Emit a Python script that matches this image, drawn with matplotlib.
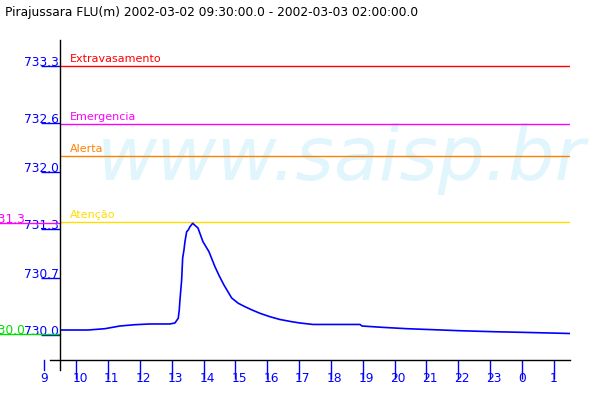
import math
import matplotlib
matplotlib.use("Agg")
import matplotlib.pyplot as plt
import matplotlib.transforms as mtransforms

# ---- data ----
title = "Pirajussara FLU(m) 2002-03-02 09:30:00.0 - 2002-03-03 02:00:00.0"
hours = [9.5, 10.37, 10.90, 11.37, 11.84, 12.32, 12.94, 13.10,
         13.204, 13.236, 13.258, 13.311, 13.343, 13.384, 13.415, 13.468,
         13.519, 13.572, 13.657, 13.823, 13.98, 14.169, 14.357, 14.493,
         14.64, 14.882, 15.089, 15.30, 15.52, 15.771, 16.085, 16.399,
         16.767, 17.028, 17.436, 18.913, 18.976, 19.604, 20.39, 21.206,
         21.991, 23.122, 23.939, 25.227, 25.51]
levels = [730.061, 730.061, 730.077, 730.110, 730.126, 730.135, 730.135, 730.147,
          730.205, 730.307, 730.429, 730.675, 730.945, 731.043, 731.145, 731.267,
          731.288, 731.328, 731.370, 731.313, 731.145, 731.022, 730.838, 730.724,
          730.613, 730.454, 730.389, 730.347, 730.307, 730.266, 730.224, 730.190,
          730.163, 730.147, 730.129, 730.129, 730.110, 730.094, 730.077, 730.065,
          730.053, 730.040, 730.033, 730.021, 730.018]

threshold_names = ["Extravasamento", "Emergencia", "Alerta", "Atenção"]
threshold_values = [733.3, 732.59, 732.2, 731.39]
threshold_colors = ["#FF0000", "#FF00FF", "#FF8000", "#FFDD00"]

ytick_values = [730.0, 730.7, 731.3, 732.0, 732.6, 733.3]
ytick_labels = ["730.0", "730.7", "731.3", "732.0", "732.6", "733.3"]
xtick_hours = list(range(9, 26))
xtick_labels = [str(h % 24) for h in xtick_hours]

watermark = "www.saisp.br"

# ---- figure ----
W, H = 600, 400
fig = plt.figure(figsize=(6, 4), dpi=100)
ax = fig.add_axes([60 / W, 40 / H, 510 / W, 320 / H])
ax.set_xlim(9.49, 25.51)
ax.set_ylim(729.693, 733.619)
ax.patch.set_visible(False)
for s in ax.spines.values():
    s.set_visible(False)

BLUE = "#0000FF"
px = 72.0 / 100.0  # points per pixel

# watermark (behind the axes content)
fig.text(97 / W, 1 - 180 / H, watermark, fontsize=53, style="italic",
         color="#E1F5FD", ha="left", va="baseline", zorder=-1)

# axis lines
ax.plot([-10 / 510, 1], [0, 0], transform=ax.transAxes, color="black",
        lw=1.0, clip_on=False, zorder=5)
ax.plot([0, 0], [-10 / 320, 1], transform=ax.transAxes, color="black",
        lw=1.0, clip_on=False, zorder=5)

# x ticks
ax.set_xticks([h for h in xtick_hours if h >= 9.49])
ax.set_xticklabels([])
ax.tick_params(axis="x", direction="out", length=10 / px, width=1.0,
               color=BLUE, labelbottom=False)
bt = mtransforms.blended_transform_factory(ax.transData, ax.transAxes)
for h, lab in zip(xtick_hours, xtick_labels):
    if h < 9.49:
        ax.plot([h, h], [0, -10 / 320], transform=bt, color=BLUE, lw=1.0,
                clip_on=False)
    ax.text(h, -12 / 320, lab, transform=bt + mtransforms.ScaledTranslation(-4 / 100, 0, fig.dpi_scale_trans),
            ha="left", va="top", color=BLUE, fontsize=8.8)

# y ticks
ax.set_yticks(ytick_values)
ax.set_yticklabels([])
ax.tick_params(axis="y", direction="out", length=10 / px, width=1.0,
               color=BLUE, labelleft=False)
yt = mtransforms.blended_transform_factory(ax.transAxes, ax.transData)
for v, lab in zip(ytick_values, ytick_labels):
    ax.text(0, v, lab, transform=yt + mtransforms.ScaledTranslation(-1 / 100, 0, fig.dpi_scale_trans),
            ha="right", va="baseline", color=BLUE, fontsize=8.8)

# thresholds
for name, val, col in zip(threshold_names, threshold_values, threshold_colors):
    ax.axhline(val, color=col, lw=1.0, zorder=2)
    ax.text(0, val, name, transform=yt + mtransforms.ScaledTranslation(10 / 100, 4 / 100, fig.dpi_scale_trans),
            ha="left", va="baseline", color=col, fontsize=8)

# data
ax.plot(hours, levels, color=BLUE, lw=1.2, zorder=4)

# max / min markers on the left
ft = mtransforms.blended_transform_factory(fig.transFigure, ax.transData)
vmax, vmin = max(levels), min(levels)
for v, col in ((vmax, "#FF00FF"), (vmin, "#00DD00")):
    ax.plot([0, 60 / W], [v, v], transform=ft, color=col, lw=1.0, clip_on=False, zorder=3)
    ax.text(25 / W, v, f"{math.floor(v * 10) / 10:.1f}", transform=ft, ha="right",
            va="baseline", color=col, fontsize=8.8, clip_on=False)

fig.text(5 / W, 1 - 6 / H, title, ha="left", va="top", fontsize=8.8, color="black")

fig.savefig("out.png", dpi=100, facecolor="white")
